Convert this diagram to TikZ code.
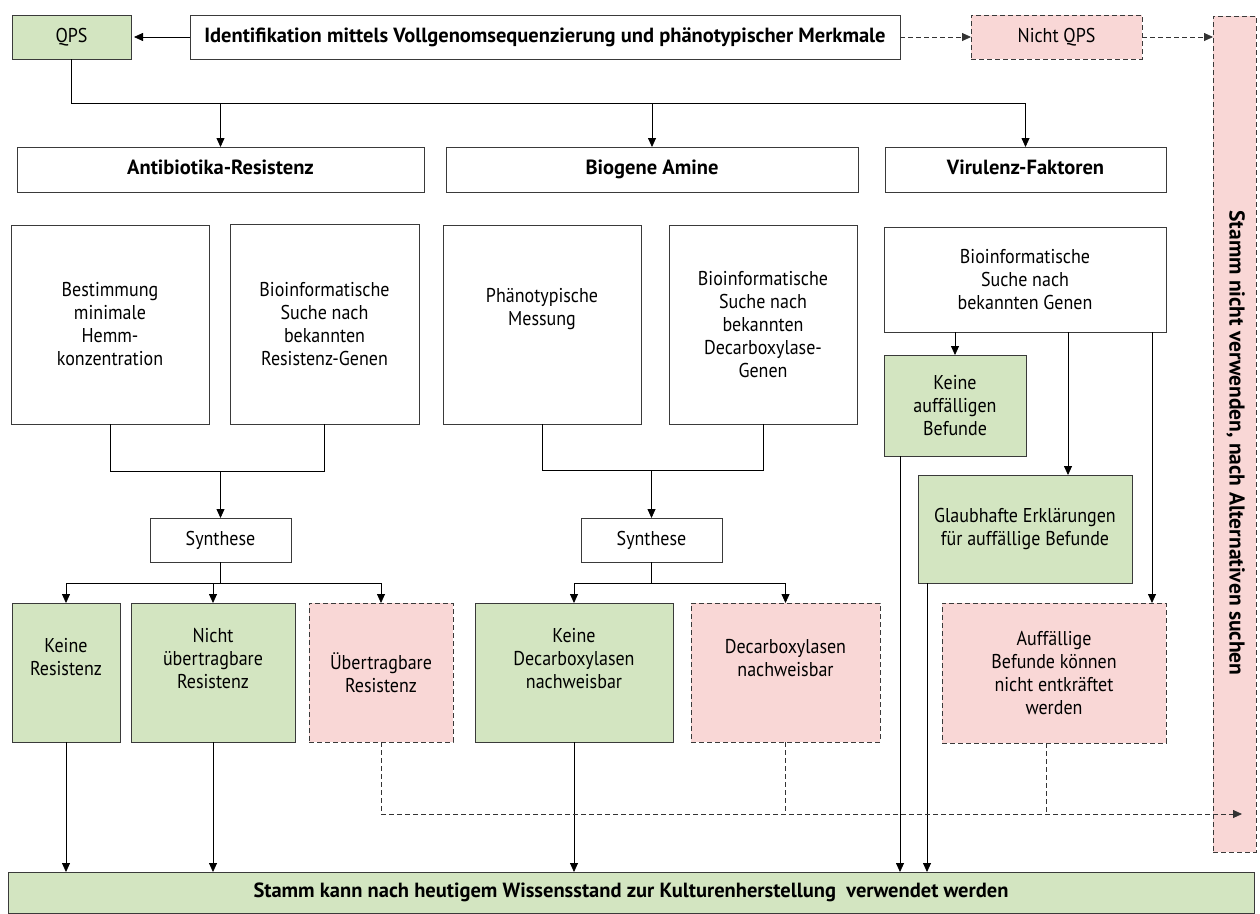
\documentclass[tikz,border=0pt]{standalone}
\usepackage{fontspec}
\setmainfont{PT Sans}
\newfontfamily\condfont{PT Sans}[FakeStretch=0.9]
\usetikzlibrary{arrows.meta}
\definecolor{gfill}{HTML}{D3E5C1}
\definecolor{pfill}{HTML}{F9D7D6}
\definecolor{bord}{HTML}{3A3A3A}
\tikzset{
  base/.style={rectangle, draw=bord, line width=0.9pt, inner sep=2pt, outer sep=0pt, align=center, font=\condfont\fontsize{20}{23}\selectfont},
  wbox/.style={base, fill=white},
  gbox/.style={base, fill=gfill},
  pbox/.style={base, fill=pfill, dash pattern=on 5pt off 3pt},
  hdr/.style={font=\normalfont\fontsize{20.5}{24}\selectfont\bfseries, text height=14pt, text depth=4pt},
  arr/.style={draw=black, line width=0.8pt, -{Triangle[length=9pt,width=8pt]}},
  ln/.style={draw=black, line width=0.8pt},
  dln/.style={draw=black!80, line width=0.8pt, dash pattern=on 5pt off 3pt},
  darr/.style={dln, -{Triangle[length=9pt,width=8pt]}},
}
\begin{document}
\begin{tikzpicture}[x=1pt,y=-1pt]
\useasboundingbox (0,0) rectangle (1260,913);
% top row
\node[gbox, minimum width=119pt, minimum height=44pt, text height=14pt, text depth=4pt] (qps) at (71.5,37) {QPS};
\node[wbox, hdr, minimum width=710pt, minimum height=44pt] (ident) at (545,37) {Identifikation mittels Vollgenomsequenzierung und phänotypischer Merkmale};
\node[pbox, minimum width=171pt, minimum height=44pt, text height=14pt, text depth=4pt] (nqps) at (1056.5,37) {Nicht QPS};
\node[pbox, minimum width=43pt, minimum height=836pt] (stop) at (1234.5,434) {};
\node[hdr, font=\normalfont\fontsize{21.5}{24}\selectfont\bfseries, rotate=-90] (stoptxt) at ([yshift=-9pt]stop.center) {Stamm nicht verwenden, nach Alternativen suchen};
% headers
\node[wbox, hdr, minimum width=407pt, minimum height=45pt] (ab) at (220.5,169.5) {Antibiotika-Resistenz};
\node[wbox, hdr, minimum width=412pt, minimum height=45pt] (ba) at (652,169.5) {Biogene Amine};
\node[wbox, hdr, minimum width=281pt, minimum height=45pt] (vf) at (1025.5,169.5) {Virulenz-Faktoren};
% method boxes
\node[wbox, minimum width=198pt, minimum height=199pt] (mhk) at (110,324.5) {Bestimmung\\minimale\\Hemm-\\konzentration};
\node[wbox, minimum width=189pt, minimum height=200pt] (bsr) at (324.5,324) {Bioinformatische\\Suche nach\\bekannten\\Resistenz-Genen};
\node[wbox, minimum width=198pt, minimum height=199pt] (phm) at (542,324.5) {Phänotypische\\Messung\\[12pt]};
\node[wbox, minimum width=188pt, minimum height=199pt] (bsd) at (763,324.5) {Bioinformatische\\Suche nach\\bekannten\\Decarboxylase-\\Genen};
\node[wbox, minimum width=282pt, minimum height=105pt] (bsg) at (1025,279.5) {Bioinformatische\\Suche nach\\bekannten Genen};
\node[gbox, minimum width=142pt, minimum height=101pt] (kaf) at (955,405.5) {Keine\\auffälligen\\Befunde};
\node[gbox, minimum width=214pt, minimum height=108pt] (gle) at (1025,529) {Glaubhafte Erklärungen\\für auffällige Befunde};
% synthese
\node[wbox, minimum width=141pt, minimum height=44pt] (syn1) at (220.5,540) {Synthese};
\node[wbox, minimum width=141pt, minimum height=44pt] (syn2) at (651.5,540) {Synthese};
% results
\node[gbox, minimum width=108pt, minimum height=139pt] (kr) at (66,672.5) {Keine\\Resistenz\\[8pt]};
\node[gbox, minimum width=164pt, minimum height=139pt] (nur) at (213,672.5) {Nicht\\übertragbare\\Resistenz\\[5pt]};
\node[pbox, minimum width=144pt, minimum height=139pt] (ur) at (381,672.5) {Übertragbare\\Resistenz};
\node[gbox, minimum width=198pt, minimum height=139pt] (kdn) at (574,672.5) {Keine\\Decarboxylasen\\nachweisbar\\[5pt]};
\node[pbox, minimum width=189pt, minimum height=139pt] (dn) at (785.5,672.5) {Decarboxylasen\\nachweisbar\\[7pt]};
\node[pbox, minimum width=224pt, minimum height=140pt] (afn) at (1054,673) {Auffällige\\Befunde können\\nicht entkräftet\\werden};
% final
\node[gbox, hdr, minimum width=1246pt, minimum height=41pt] (fin) at (631,892.5) {Stamm kann nach heutigem Wissensstand zur Kulturenherstellung\ \ verwendet werden};

% connectors top
\draw[arr] (ident.west) -- ([xshift=3pt]qps.east);
\draw[darr] (ident.east) -- (nqps.west);
\draw[darr] (nqps.east) -- (nqps.east -| stop.west);
\coordinate (bus) at (71.5,103);
\draw[arr] (qps.south) |- (bus -| vf.north) -- (vf.north);
\draw[arr] (bus -| ab.north) -- (ab.north);
\draw[arr] (bus -| ba.north) -- (ba.north);
% method joins
\coordinate (j1) at (220.5,471);
\draw[ln] (mhk.south) -- (mhk.south |- j1) -- (bsr.south |- j1) -- (bsr.south);
\draw[arr] (j1) -- (syn1.north);
\coordinate (j2) at (651.5,470);
\draw[ln] (phm.south) -- (phm.south |- j2) -- (bsd.south |- j2) -- (bsd.south);
\draw[arr] (j2) -- (syn2.north);
% synthese branches
\coordinate (b1) at (220.5,583);
\draw[ln] (syn1.south) -- (b1);
\draw[arr] (b1) -| (kr.north);
\draw[arr] (b1) -| (ur.north);
\draw[arr] (b1 -| nur.north) -- (nur.north);
\coordinate (b2) at (651.5,583);
\draw[ln] (syn2.south) -- (b2);
\draw[arr] (b2) -| (kdn.north);
\draw[arr] (b2) -| (dn.north);
% virulence
\draw[arr] (kaf.north |- bsg.south) -- (kaf.north);
\draw[arr] ([xshift=43pt]bsg.south) -- ([xshift=43pt]bsg.south |- gle.north);
\draw[arr] ([xshift=127pt]bsg.south) -- ([xshift=127pt]bsg.south |- afn.north);
% to final
\draw[arr] (kr.south) -- (kr.south |- fin.north);
\draw[arr] (nur.south) -- (nur.south |- fin.north);
\draw[arr] (kdn.south) -- (kdn.south |- fin.north);
\draw[arr] ([xshift=-55pt]kaf.south) -- ([xshift=-55pt]kaf.south |- fin.north);
\draw[arr] ([xshift=-98pt]gle.south) -- ([xshift=-98pt]gle.south |- fin.north);
% dashed to stop
\coordinate (dl) at (1242,814);
\draw[darr] (ur.south) |- (dl);
\draw[dln] (dn.south) -- (dn.south |- dl);
\draw[dln] ([xshift=-8pt]afn.south) -- ([xshift=-8pt]afn.south |- dl);
\end{tikzpicture}
\end{document}
